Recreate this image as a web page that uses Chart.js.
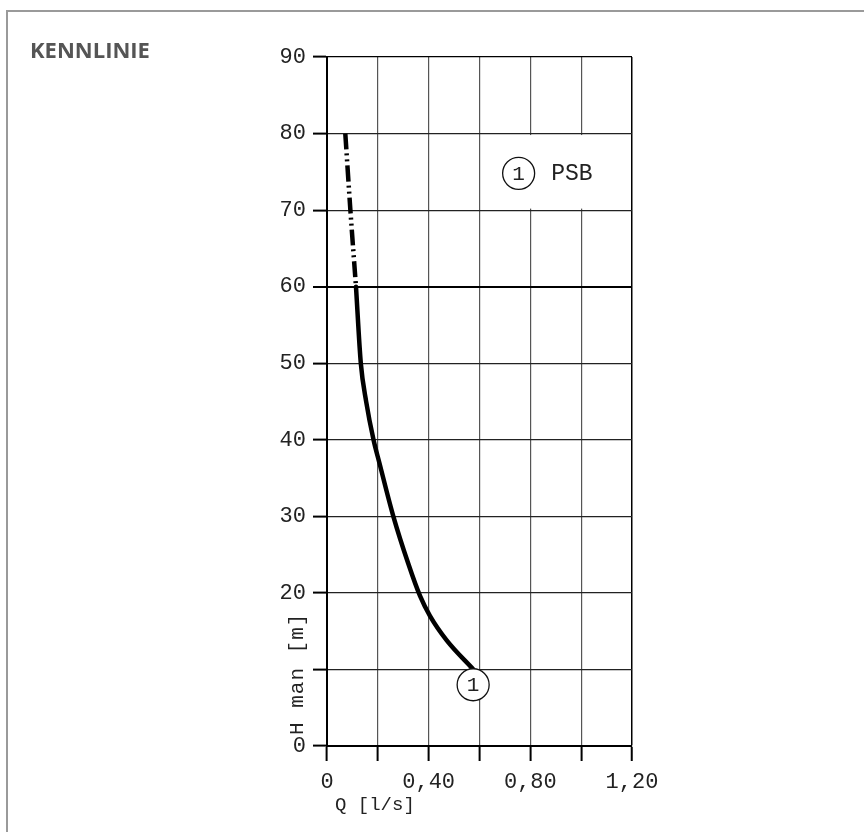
<!DOCTYPE html>
<html><head><meta charset="utf-8">
<script src="https://cdn.jsdelivr.net/npm/chart.js@4.4.1/dist/chart.umd.min.js"></script>
<style>html,body{margin:0;padding:0;background:#fff}#wrap{width:864px;height:832px;position:relative}canvas{display:block}</style>
</head><body><div id="wrap"><canvas id="c" width="864" height="832"></canvas></div>
<script>
// ---- data ----
const chartTitle = 'KENNLINIE';
const xTitle = 'Q [l/s]';
const yTitle = 'H man [m]';
const curveDashedQ = [0.072, 0.092, 0.114];
const curveDashedH = [80, 70, 60];
const curveSolidQ = [0.114, 0.133, 0.154, 0.183, 0.206, 0.261, 0.32, 0.366, 0.405, 0.471, 0.576];
const curveSolidH = [60, 50, 45, 40, 37, 30, 23.8, 19.6, 17.0, 13.8, 10];
const markerQ = [0.575, 0.754];
const markerH = [8, 74.8];
const markerLabels = ['1', '1'];
const legendText = 'PSB';
const legendTextQ = 0.882;
const legendTextH = 74.8;
const legendBoxQ = [0.6, 1.2];
const legendBoxH = [70, 80];
const xGridValues = [0, 0.2, 0.4, 0.6, 0.8, 1.0, 1.2];
const xTickValues = [0, 0.4, 0.8, 1.2];
const xTickLabels = ['0', '0,40', '0,80', '1,20'];
const yTickValues = [0, 10, 20, 30, 40, 50, 60, 70, 80, 90];
const yTickLabels = ['0', '', '20', '30', '40', '50', '60', '70', '80', '90'];

const AXIS_FONT = '"Liberation Mono", "DejaVu Sans Mono", monospace';
const TXT = '#222';

const pts = (qs, hs) => qs.map((q, i) => ({x: q, y: hs[i]}));

const decor = {
  id: 'decor',
  beforeDraw(chart) {
    const c = chart.ctx;
    c.save();
    c.fillStyle = '#fff';
    c.fillRect(0, 0, chart.width, chart.height);
    c.strokeStyle = '#9a9a9a';
    c.lineWidth = 2;
    c.beginPath();
    c.moveTo(7, chart.height); c.lineTo(7, 11); c.lineTo(chart.width, 11);
    c.stroke();
    c.fillStyle = '#555';
    c.font = '700 22px "Open Sans", sans-serif';
    c.textAlign = 'left'; c.textBaseline = 'middle';
    c.fillText(chartTitle, 30, 52);
    c.restore();
  },
  beforeDatasetsDraw(chart) {
    const c = chart.ctx, xs = chart.scales.x, ys = chart.scales.y;
    const l = xs.getPixelForValue(legendBoxQ[0]) + 1.5, r = xs.getPixelForValue(legendBoxQ[1]) - 1.5;
    const t = ys.getPixelForValue(legendBoxH[1]) + 1.5, b = ys.getPixelForValue(legendBoxH[0]) - 1.5;
    c.save(); c.fillStyle = '#fff'; c.fillRect(l, t, r - l, b - t); c.restore();
  },
  afterDatasetsDraw(chart) {
    const c = chart.ctx, xs = chart.scales.x, ys = chart.scales.y;
    c.save();
    c.fillStyle = TXT;
    c.textAlign = 'center'; c.textBaseline = 'middle';
    c.font = '21px ' + AXIS_FONT;
    markerQ.forEach((q, i) => c.fillText(markerLabels[i], xs.getPixelForValue(q), ys.getPixelForValue(markerH[i]) + 1));
    c.font = '23px ' + AXIS_FONT;
    c.textAlign = 'left';
    c.fillText(legendText, xs.getPixelForValue(legendTextQ), ys.getPixelForValue(legendTextH) + 1);
    // x title
    c.font = '19px ' + AXIS_FONT;
    c.fillText(xTitle, xs.getPixelForValue(0) + 8, xs.top + 59);
    // y title
    c.save();
    c.translate(ys.right - 30, ys.getPixelForValue(0) - 11);
    c.rotate(-Math.PI / 2);
    c.font = '21px ' + AXIS_FONT;
    if ('letterSpacing' in c) c.letterSpacing = '1px';
    c.textAlign = 'left'; c.textBaseline = 'middle';
    c.fillText(yTitle, 0, 0);
    c.restore();
    c.restore();
  }
};

new Chart(document.getElementById('c'), {
  type: 'scatter',
  data: {
    datasets: [
      {
        data: pts(markerQ, markerH),
        pointStyle: 'circle', pointRadius: 16, pointHoverRadius: 16,
        pointBackgroundColor: '#fff', pointBorderColor: '#111', pointBorderWidth: 1.3,
        showLine: false
      },
      {
        data: pts(curveSolidQ, curveSolidH),
        showLine: true, borderColor: '#000', borderWidth: 4.5, pointRadius: 0,
        cubicInterpolationMode: 'monotone', borderCapStyle: 'round', borderJoinStyle: 'round', fill: false
      },
      {
        data: pts(curveDashedQ, curveDashedH),
        showLine: true, borderColor: '#000', borderWidth: 4.5, pointRadius: 0,
        cubicInterpolationMode: 'monotone', borderDash: [16, 4, 2, 4, 2, 4], fill: false
      }
    ]
  },
  options: {
    responsive: false, animation: false, devicePixelRatio: 1,
    layout: {padding: {left: 267, top: 57, right: 232, bottom: 16}},
    plugins: {legend: {display: false}, tooltip: {enabled: false}, title: {display: false}},
    scales: {
      x: {
        type: 'linear', position: 'bottom', min: 0, max: 1.2,
        afterBuildTicks: s => { s.ticks = xGridValues.map(v => ({value: v})); },
        afterFit: s => { s.height = 70; },
        ticks: {
          autoSkip: false, maxRotation: 0, minRotation: 0, padding: 8, color: TXT,
          font: {family: AXIS_FONT, size: 22},
          callback: v => { const i = xTickValues.findIndex(t => Math.abs(t - v) < 1e-6); return i >= 0 ? xTickLabels[i] : ''; }
        },
        grid: {
          color: ctx => (Math.abs(ctx.tick.value - 1.2) < 1e-6 ? '#000' : '#555'),
          lineWidth: ctx => (Math.abs(ctx.tick.value - 1.2) < 1e-6 ? 1.5 : 1.2),
          tickLength: 15, tickWidth: 2, tickColor: '#000'
        },
        border: {color: '#000', width: 2}
      },
      y: {
        type: 'linear', position: 'left', min: 0, max: 90,
        afterBuildTicks: s => { s.ticks = yTickValues.map(v => ({value: v})); },
        afterFit: s => { s.width = 60; },
        ticks: {
          autoSkip: false, padding: 7, color: TXT, font: {family: AXIS_FONT, size: 22},
          callback: v => { const i = yTickValues.indexOf(v); return i >= 0 ? yTickLabels[i] : ''; }
        },
        grid: {
          color: ctx => (ctx.tick.value === 90 || ctx.tick.value === 60 ? '#000' : '#222'),
          lineWidth: ctx => (ctx.tick.value === 60 ? 2 : 1.2),
          tickLength: 14, tickWidth: 2, tickColor: '#000'
        },
        border: {color: '#000', width: 2}
      }
    }
  },
  plugins: [decor]
});
</script>
</body></html>
